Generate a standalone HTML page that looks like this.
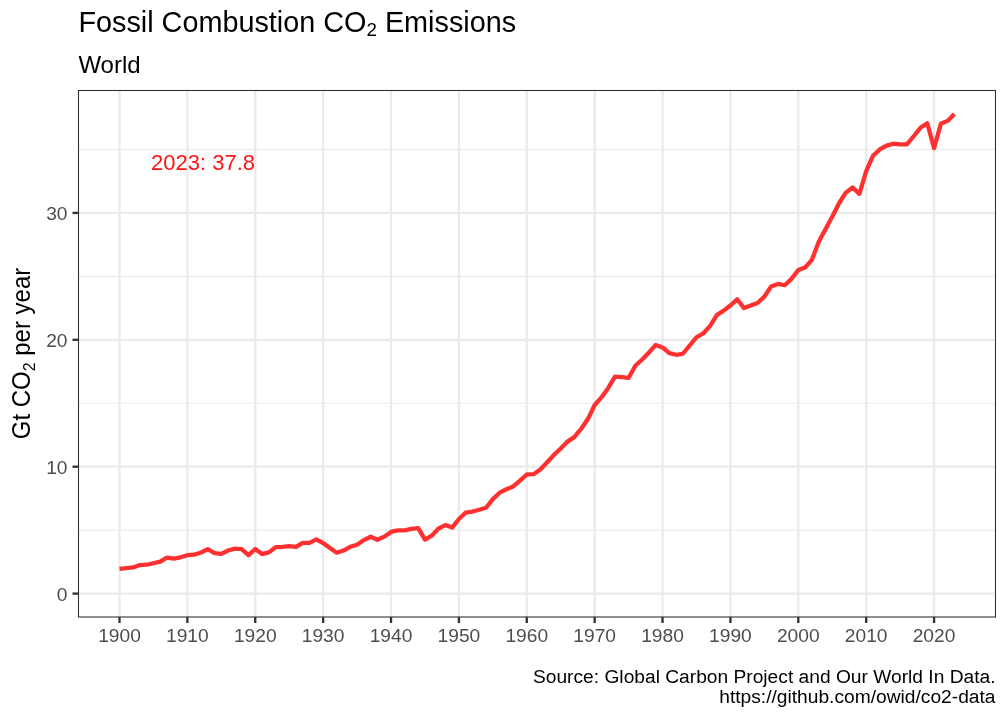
<!DOCTYPE html>
<html><head><meta charset="utf-8"><title>Fossil Combustion CO2 Emissions</title>
<style>
html,body{margin:0;padding:0;background:#fff;width:1008px;height:720px;overflow:hidden}
svg{display:block;will-change:transform}
text{font-family:"Liberation Sans",Arial,Helvetica,sans-serif}
.ax{font-size:19.2px;fill:#4D4D4D}
</style></head><body>
<svg width="1008" height="720" viewBox="0 0 1008 720">
<rect x="0" y="0" width="1008" height="720" fill="#fff"/>
<text x="78.4" y="32.2" font-size="28.8" fill="#000">Fossil Combustion CO<tspan font-size="18.8" dy="4">2</tspan><tspan dy="-4"> Emissions</tspan></text>
<text x="78.4" y="73" font-size="24" fill="#000">World</text>
<line x1="78.5" x2="995.5" y1="530.15" y2="530.15" stroke="#EBEBEB" stroke-width="1.16"/>
<line x1="78.5" x2="995.5" y1="403.25" y2="403.25" stroke="#EBEBEB" stroke-width="1.16"/>
<line x1="78.5" x2="995.5" y1="276.35" y2="276.35" stroke="#EBEBEB" stroke-width="1.16"/>
<line x1="78.5" x2="995.5" y1="149.45" y2="149.45" stroke="#EBEBEB" stroke-width="1.16"/>
<line x1="78.5" x2="995.5" y1="593.60" y2="593.60" stroke="#EBEBEB" stroke-width="2.33"/>
<line x1="78.5" x2="995.5" y1="466.70" y2="466.70" stroke="#EBEBEB" stroke-width="2.33"/>
<line x1="78.5" x2="995.5" y1="339.80" y2="339.80" stroke="#EBEBEB" stroke-width="2.33"/>
<line x1="78.5" x2="995.5" y1="212.90" y2="212.90" stroke="#EBEBEB" stroke-width="2.33"/>
<line x1="119.50" x2="119.50" y1="90.5" y2="617.0" stroke="#EBEBEB" stroke-width="2.33"/>
<line x1="187.38" x2="187.38" y1="90.5" y2="617.0" stroke="#EBEBEB" stroke-width="2.33"/>
<line x1="255.26" x2="255.26" y1="90.5" y2="617.0" stroke="#EBEBEB" stroke-width="2.33"/>
<line x1="323.14" x2="323.14" y1="90.5" y2="617.0" stroke="#EBEBEB" stroke-width="2.33"/>
<line x1="391.02" x2="391.02" y1="90.5" y2="617.0" stroke="#EBEBEB" stroke-width="2.33"/>
<line x1="458.90" x2="458.90" y1="90.5" y2="617.0" stroke="#EBEBEB" stroke-width="2.33"/>
<line x1="526.78" x2="526.78" y1="90.5" y2="617.0" stroke="#EBEBEB" stroke-width="2.33"/>
<line x1="594.66" x2="594.66" y1="90.5" y2="617.0" stroke="#EBEBEB" stroke-width="2.33"/>
<line x1="662.54" x2="662.54" y1="90.5" y2="617.0" stroke="#EBEBEB" stroke-width="2.33"/>
<line x1="730.42" x2="730.42" y1="90.5" y2="617.0" stroke="#EBEBEB" stroke-width="2.33"/>
<line x1="798.30" x2="798.30" y1="90.5" y2="617.0" stroke="#EBEBEB" stroke-width="2.33"/>
<line x1="866.18" x2="866.18" y1="90.5" y2="617.0" stroke="#EBEBEB" stroke-width="2.33"/>
<line x1="934.06" x2="934.06" y1="90.5" y2="617.0" stroke="#EBEBEB" stroke-width="2.33"/>
<polyline points="119.50,568.83 126.29,568.07 133.08,567.47 139.86,565.07 146.65,564.73 153.44,563.21 160.23,561.56 167.02,557.57 173.80,558.68 180.59,557.31 187.38,555.20 194.17,554.73 200.96,552.54 207.74,549.22 214.53,553.07 221.32,553.82 228.11,550.50 234.90,548.58 241.68,549.22 248.47,555.15 255.26,548.99 262.05,554.07 268.84,552.37 275.62,547.24 282.41,546.80 289.20,546.14 295.99,546.90 302.78,542.88 309.56,542.88 316.35,539.32 323.14,543.02 329.93,547.90 336.72,552.70 343.50,550.58 350.29,546.77 357.08,544.67 363.87,540.09 370.66,536.75 377.44,539.76 384.23,536.65 391.02,531.89 397.81,530.30 404.60,530.40 411.38,528.88 418.17,528.13 424.96,539.62 431.75,535.71 438.54,528.49 445.32,525.10 452.11,527.59 458.90,518.98 465.69,512.63 472.48,511.52 479.26,509.71 486.05,507.74 492.84,499.10 499.63,492.71 506.42,489.26 513.20,486.46 519.99,480.63 526.78,474.49 533.57,474.14 540.36,469.50 547.14,462.28 553.93,454.82 560.72,448.53 567.51,441.60 574.30,437.14 581.08,428.97 587.87,419.06 594.66,405.03 601.45,397.41 608.24,387.90 615.02,376.60 621.81,377.24 628.60,377.87 635.39,365.81 642.18,359.47 648.96,352.49 655.75,344.88 662.54,347.41 669.33,353.12 676.12,354.77 682.90,353.76 689.69,345.51 696.48,337.26 703.27,333.46 710.06,325.84 716.84,315.05 723.63,310.61 730.42,305.54 737.21,299.19 744.00,308.08 750.78,305.54 757.57,303.00 764.36,296.65 771.15,286.50 777.94,283.96 784.72,285.23 791.51,278.89 798.30,270.01 805.09,267.47 811.88,259.85 818.66,242.09 825.45,229.14 832.24,216.71 839.03,203.26 845.82,192.60 852.60,187.52 859.39,193.87 866.18,171.02 872.97,155.80 879.76,149.45 886.54,145.64 893.33,143.74 900.12,144.37 906.91,144.37 913.70,136.25 920.48,127.75 927.27,123.31 934.06,148.18 940.85,123.82 947.64,120.90 954.42,113.92" fill="none" stroke="#FF3030" stroke-width="4.27" stroke-linejoin="round" stroke-linecap="butt"/>
<text x="151" y="169.6" font-size="22" fill="#FF1414">2023: 37.8</text>
<rect x="78.5" y="90.5" width="917.0" height="526.5" fill="none" stroke="#333333" stroke-width="1.1"/>
<line x1="72.5" x2="78.5" y1="593.60" y2="593.60" stroke="#333333" stroke-width="2.33"/>
<text x="67.5" y="601.00" text-anchor="end" class="ax">0</text>
<line x1="72.5" x2="78.5" y1="466.70" y2="466.70" stroke="#333333" stroke-width="2.33"/>
<text x="67.5" y="474.10" text-anchor="end" class="ax">10</text>
<line x1="72.5" x2="78.5" y1="339.80" y2="339.80" stroke="#333333" stroke-width="2.33"/>
<text x="67.5" y="347.20" text-anchor="end" class="ax">20</text>
<line x1="72.5" x2="78.5" y1="212.90" y2="212.90" stroke="#333333" stroke-width="2.33"/>
<text x="67.5" y="220.30" text-anchor="end" class="ax">30</text>
<line x1="119.50" x2="119.50" y1="617.0" y2="623.0" stroke="#333333" stroke-width="2.33"/>
<text x="119.50" y="641.7" text-anchor="middle" class="ax">1900</text>
<line x1="187.38" x2="187.38" y1="617.0" y2="623.0" stroke="#333333" stroke-width="2.33"/>
<text x="187.38" y="641.7" text-anchor="middle" class="ax">1910</text>
<line x1="255.26" x2="255.26" y1="617.0" y2="623.0" stroke="#333333" stroke-width="2.33"/>
<text x="255.26" y="641.7" text-anchor="middle" class="ax">1920</text>
<line x1="323.14" x2="323.14" y1="617.0" y2="623.0" stroke="#333333" stroke-width="2.33"/>
<text x="323.14" y="641.7" text-anchor="middle" class="ax">1930</text>
<line x1="391.02" x2="391.02" y1="617.0" y2="623.0" stroke="#333333" stroke-width="2.33"/>
<text x="391.02" y="641.7" text-anchor="middle" class="ax">1940</text>
<line x1="458.90" x2="458.90" y1="617.0" y2="623.0" stroke="#333333" stroke-width="2.33"/>
<text x="458.90" y="641.7" text-anchor="middle" class="ax">1950</text>
<line x1="526.78" x2="526.78" y1="617.0" y2="623.0" stroke="#333333" stroke-width="2.33"/>
<text x="526.78" y="641.7" text-anchor="middle" class="ax">1960</text>
<line x1="594.66" x2="594.66" y1="617.0" y2="623.0" stroke="#333333" stroke-width="2.33"/>
<text x="594.66" y="641.7" text-anchor="middle" class="ax">1970</text>
<line x1="662.54" x2="662.54" y1="617.0" y2="623.0" stroke="#333333" stroke-width="2.33"/>
<text x="662.54" y="641.7" text-anchor="middle" class="ax">1980</text>
<line x1="730.42" x2="730.42" y1="617.0" y2="623.0" stroke="#333333" stroke-width="2.33"/>
<text x="730.42" y="641.7" text-anchor="middle" class="ax">1990</text>
<line x1="798.30" x2="798.30" y1="617.0" y2="623.0" stroke="#333333" stroke-width="2.33"/>
<text x="798.30" y="641.7" text-anchor="middle" class="ax">2000</text>
<line x1="866.18" x2="866.18" y1="617.0" y2="623.0" stroke="#333333" stroke-width="2.33"/>
<text x="866.18" y="641.7" text-anchor="middle" class="ax">2010</text>
<line x1="934.06" x2="934.06" y1="617.0" y2="623.0" stroke="#333333" stroke-width="2.33"/>
<text x="934.06" y="641.7" text-anchor="middle" class="ax">2020</text>
<text transform="translate(29.7,353.5) rotate(-90) scale(1,1.07)" text-anchor="middle" font-size="24" fill="#000">Gt CO<tspan font-size="16" dy="5">2</tspan><tspan dy="-5"> per year</tspan></text>
<text x="995.5" y="682.8" text-anchor="end" font-size="19.2" fill="#000">Source: Global Carbon Project and Our World In Data.</text>
<text x="995.5" y="703.4" text-anchor="end" font-size="19.2" fill="#000">https://github.com/owid/co2-data</text>
</svg>
</body></html>
